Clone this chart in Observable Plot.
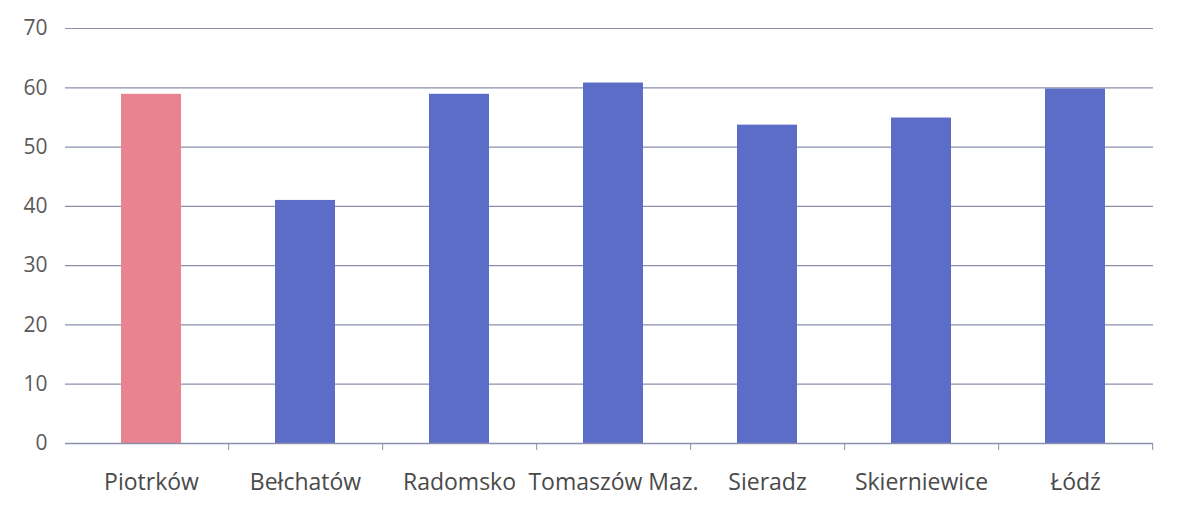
<!DOCTYPE html>
<html>
<head>
<meta charset="utf-8">
<script src="https://cdn.jsdelivr.net/npm/d3@7"></script>
<script src="https://cdn.jsdelivr.net/npm/@observablehq/plot@0.6"></script>
<style>
  html, body { margin: 0; padding: 0; background: #fff; }
  #chart svg { display: block; }
</style>
</head>
<body>
<div id="chart"></div>
<script>
const categories = ["Piotrków", "Bełchatów", "Radomsko", "Tomaszów Maz.", "Sieradz", "Skierniewice", "Łódź"];
const values = [58.9, 41.0, 58.9, 60.8, 53.7, 54.9, 59.8];
const highlight = "Piotrków";
const yTicks = [0, 10, 20, 30, 40, 50, 60, 70];

const data = categories.map((c, i) => ({category: c, value: values[i]}));

const W = 1179, H = 515;
const mL = 73, mR = 26;
const step = (W - mL - mR) / categories.length;

const chart = Plot.plot({
  width: W,
  height: H,
  marginLeft: mL,
  marginRight: mR,
  marginTop: 28,
  marginBottom: 72,
  style: {fontFamily: "'Open Sans', sans-serif", fontSize: "21px", color: "#5a5a5a", background: "#fff"},
  x: {domain: categories, paddingInner: 0.61, paddingOuter: 0.305, label: null},
  y: {domain: [0, 70], ticks: yTicks, label: null},
  marks: [
    Plot.gridY(yTicks, {stroke: "#8a8fae", strokeOpacity: 1, strokeWidth: 1.2, insetLeft: -8}),
    Plot.barY(data, {x: "category", y: "value", fill: d => d.category === highlight ? "#e8838f" : "#5b6dc6"}),
    Plot.ruleY([0], {stroke: "#8a8fae", strokeWidth: 1.4, insetLeft: -8}),
    Plot.axisY({ticks: yTicks, tickSize: 0, tickPadding: 26, fontSize: 21, fill: "#5a5a5a", label: null}),
    Plot.axisX({tickSize: 0, tickPadding: 30, fontSize: 23, fill: "#4a4a4a", label: null, style: {letterSpacing: "0.5px"}}),
    Plot.axisX({tickSize: 7, text: null, dx: step / 2, stroke: "#8a8fae", label: null})
  ]
});

document.getElementById("chart").appendChild(chart);
</script>
</body>
</html>
